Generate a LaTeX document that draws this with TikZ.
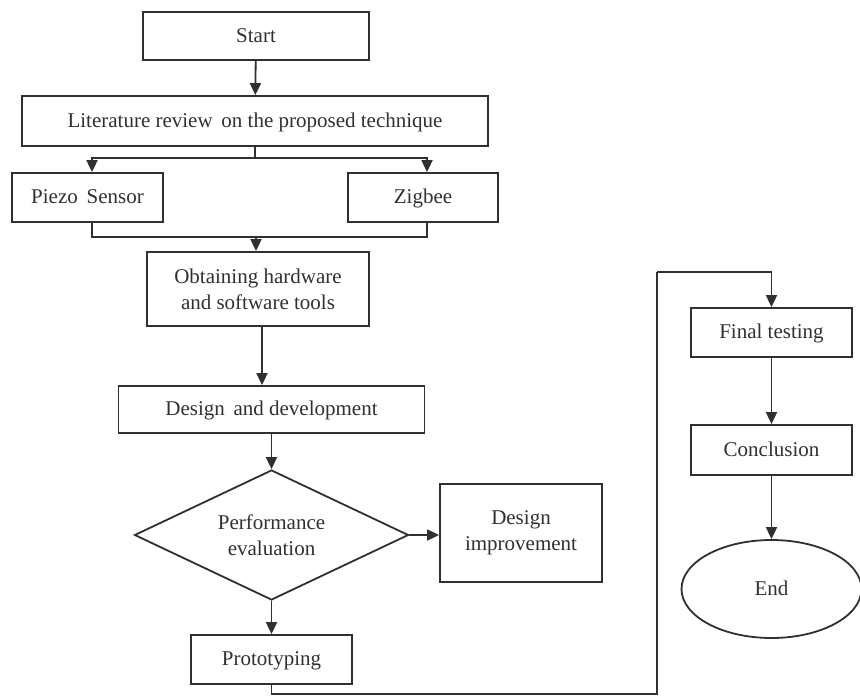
\documentclass[tikz,border=0pt]{standalone}
\usepackage{fontspec}
\setmainfont{Liberation Serif}
\usetikzlibrary{shapes.geometric,arrows.meta}
\definecolor{ink}{HTML}{303030}
\tikzset{
  txt/.style={text=ink, font=\fontsize{21}{26}\selectfont},
  box/.style={draw=ink, line width=1.8pt, rectangle, inner sep=0pt, align=center, txt},
  one/.style={text height=16pt, text depth=4pt},
  dia/.style={draw=ink, line width=1.8pt, diamond, aspect=2.1, inner sep=0pt, align=center, txt},
  oval/.style={draw=ink, line width=1.8pt, ellipse, inner sep=0pt, txt, one},
  ln/.style={draw=ink, line width=1.8pt},
  arr/.style={ln, -{Triangle[width=11pt,length=12pt]}}
}
\begin{document}
\begin{tikzpicture}[x=1pt,y=-1pt]
\useasboundingbox (0,0) rectangle (860,697);
\node[box, one, minimum width=226pt, minimum height=48pt] (start) at (256,36) {Start};
\node[box, one, minimum width=466pt, minimum height=50pt] (lit) at (255,121) {Literature review\, on the proposed technique};
\node[box, one, minimum width=151pt, minimum height=49pt] (piezo) at (87.5,197.5) {Piezo\, Sensor};
\node[box, one, minimum width=150pt, minimum height=49pt] (zig) at (423,197.5) {Zigbee};
\node[box, minimum width=222pt, minimum height=74pt] (obt) at (258,289) {Obtaining hardware\\and software tools};
\node[box, one, minimum width=306pt, minimum height=47pt] (des) at (271.5,409.5) {Design\, and development};
\node[dia, minimum width=274pt, minimum height=130pt] (perf) at (271.5,535) {Performance\\evaluation};
\node[box, minimum width=162pt, minimum height=98pt] (imp) at (521,533) {Design\\improvement};
\node[box, one, minimum width=161pt, minimum height=49pt] (proto) at (271.5,659.5) {Prototyping};
\node[box, one, minimum width=161pt, minimum height=49pt] (fin) at (771.5,332.5) {Final testing};
\node[box, one, minimum width=161pt, minimum height=50pt] (conc) at (771.5,450) {Conclusion};
\node[oval, minimum width=180pt, minimum height=98pt] (end) at (771.5,589) {End};

\coordinate (split) at (255,158);
\coordinate (join) at (256,237);
\coordinate (low) at (271.5,694);
\coordinate (up) at (657,272);
\coordinate (obtout) at ([xshift=4pt]obt.south);

\draw[arr] (start) -- (lit);
\draw[ln] (lit.south) -- (split);
\draw[arr] (split) -| ([xshift=4.5pt]piezo.north);
\draw[arr] (split) -| ([xshift=4pt]zig.north);
\draw[ln] ([xshift=4.5pt]piezo.south) |- (join);
\draw[ln] ([xshift=4pt]zig.south) |- (join);
\draw[arr] (join) -- (obt.north -| join);
\draw[arr] (obtout) -- (des.north -| obtout);
\draw[arr] (des.south) -- (perf.north);
\draw[arr] (perf.east) -- (imp.west |- perf.east);
\draw[arr] (perf.south) -- (proto.north);
\draw[ln] (proto.south) -- (low) -| (up);
\draw[arr] (up) -| (fin.north);
\draw[arr] (fin) -- (conc);
\draw[arr] (conc) -- (end);
\end{tikzpicture}
\end{document}
